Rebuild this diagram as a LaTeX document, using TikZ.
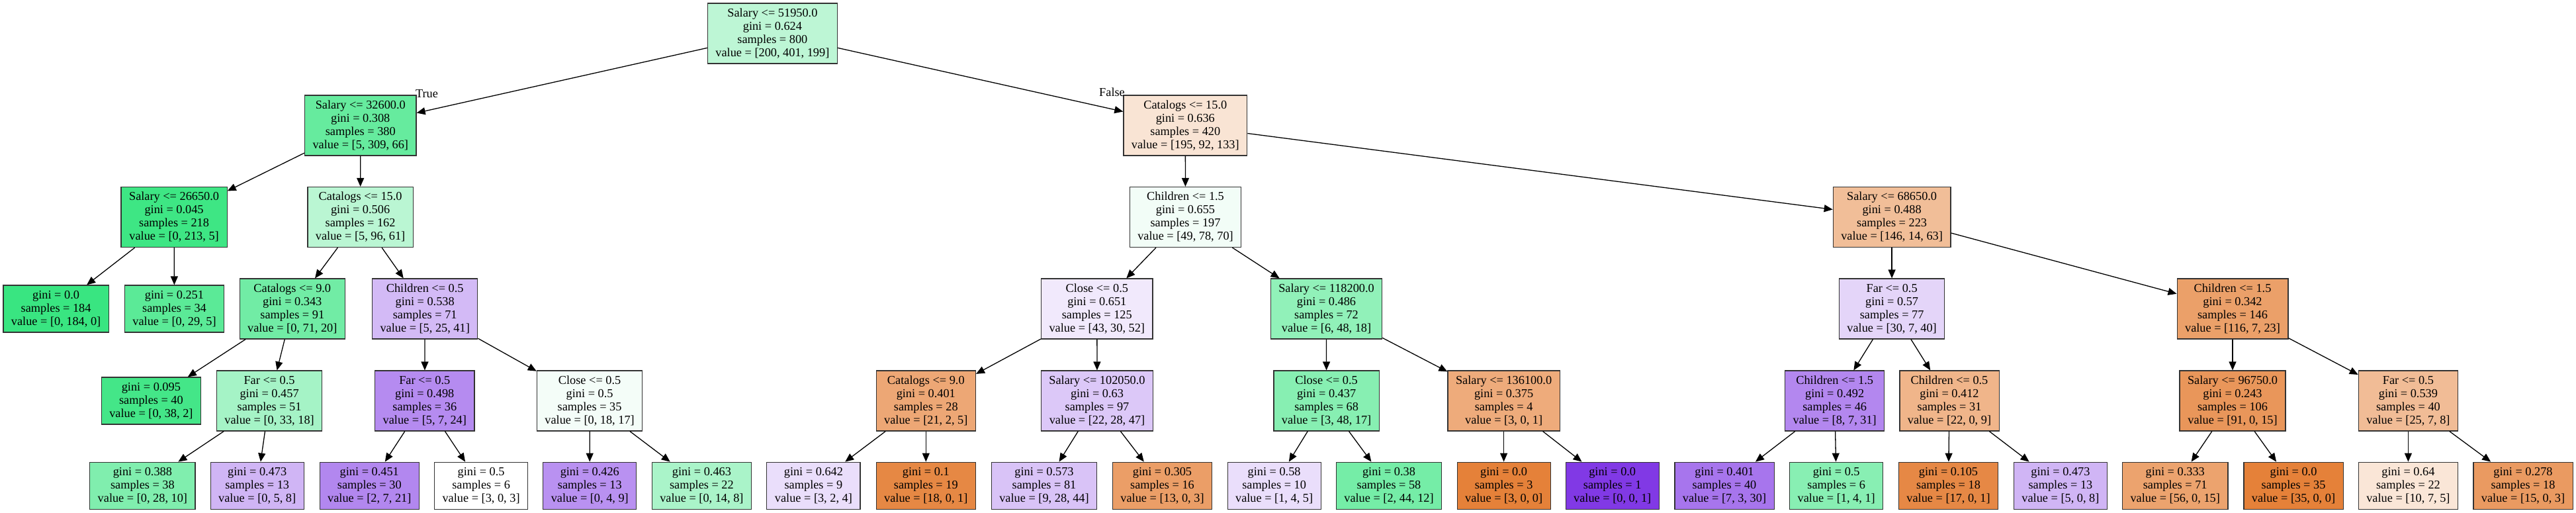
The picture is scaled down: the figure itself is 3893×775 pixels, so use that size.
\documentclass[tikz,border=0pt]{standalone}
\usepackage{fontspec}
\setmainfont{Liberation Serif}
\usetikzlibrary{arrows.meta}
\newcommand\treefont{\fontsize{18.3}{20}\selectfont}
\definecolor{croot}{RGB}{189,246,213}
\definecolor{cna}{RGB}{102,235,158}
\definecolor{cnb}{RGB}{249,228,212}
\definecolor{cnaa}{RGB}{62,230,132}
\definecolor{cnab}{RGB}{186,246,211}
\definecolor{cnba}{RGB}{242,253,247}
\definecolor{cnbb}{RGB}{241,190,152}
\definecolor{cla}{RGB}{57,229,129}
\definecolor{clb}{RGB}{91,234,151}
\definecolor{cnaba}{RGB}{113,236,165}
\definecolor{cnabb}{RGB}{211,186,246}
\definecolor{cnbaa}{RGB}{241,233,252}
\definecolor{cnbab}{RGB}{145,241,185}
\definecolor{cnbba}{RGB}{228,213,249}
\definecolor{cnbbb}{RGB}{235,160,105}
\definecolor{clc}{RGB}{68,230,136}
\definecolor{cnabab}{RGB}{165,243,198}
\definecolor{cnabba}{RGB}{181,139,240}
\definecolor{cnabbb}{RGB}{244,253,248}
\definecolor{cnbaaa}{RGB}{237,167,117}
\definecolor{cnbaab}{RGB}{220,200,248}
\definecolor{cnbaba}{RGB}{135,239,178}
\definecolor{cnbabb}{RGB}{238,171,123}
\definecolor{cnbbaa}{RGB}{179,135,239}
\definecolor{cnbbab}{RGB}{240,181,138}
\definecolor{cnbbba}{RGB}{233,150,90}
\definecolor{cnbbbb}{RGB}{241,188,150}
\definecolor{cl4}{RGB}{128,238,174}
\definecolor{cl5}{RGB}{208,181,245}
\definecolor{cl6}{RGB}{178,135,239}
\definecolor{cl7}{RGB}{255,255,255}
\definecolor{cl8}{RGB}{185,145,241}
\definecolor{cl9}{RGB}{170,244,201}
\definecolor{cl10}{RGB}{234,222,251}
\definecolor{cl11}{RGB}{230,136,68}
\definecolor{cl12}{RGB}{217,195,247}
\definecolor{cl13}{RGB}{235,158,103}
\definecolor{cl14}{RGB}{234,222,251}
\definecolor{cl15}{RGB}{117,237,167}
\definecolor{cl16}{RGB}{229,129,57}
\definecolor{cl17}{RGB}{129,57,229}
\definecolor{cl18}{RGB}{167,117,237}
\definecolor{cl19}{RGB}{136,239,179}
\definecolor{cl20}{RGB}{230,136,69}
\definecolor{cl21}{RGB}{208,181,245}
\definecolor{cl22}{RGB}{236,163,110}
\definecolor{cl23}{RGB}{229,129,57}
\definecolor{cl24}{RGB}{250,230,215}
\definecolor{cl25}{RGB}{234,154,97}
\tikzset{
  tnode/.style={draw=black!80, line width=1.2pt, rectangle, inner xsep=12pt, inner ysep=0pt, align=center, font=\treefont},
  split/.style={tnode, minimum height=91pt},
  leaf/.style={tnode, minimum height=71pt},
  conn/.style={draw=black, line width=1.3pt, -{Triangle[length=13pt,width=11pt]}},
  lbl/.style={inner sep=0pt, font=\treefont}
}
\begin{document}
\begin{tikzpicture}[x=1pt,y=-1pt]
\useasboundingbox[fill=white] (0,0) rectangle (3893,775);
% level 0
\node[split, fill=croot] (root) at (1167.4,50.5) {Salary <= 51950.0\\gini = 0.624\\samples = 800\\value = [200, 401, 199]};
% level 1
\node[split, fill=cna] (na) at (544.8,189.5) {Salary <= 32600.0\\gini = 0.308\\samples = 380\\value = [5, 309, 66]};
\node[split, fill=cnb] (nb) at (1791.3,189.5) {Catalogs <= 15.0\\gini = 0.636\\samples = 420\\value = [195, 92, 133]};
% level 2
\node[split, fill=cnaa] (naa) at (263.1,328) {Salary <= 26650.0\\gini = 0.045\\samples = 218\\value = [0, 213, 5]};
\node[split, fill=cnab] (nab) at (544.6,328) {Catalogs <= 15.0\\gini = 0.506\\samples = 162\\value = [5, 96, 61]};
\node[split, fill=cnba] (nba) at (1791.5,328) {Children <= 1.5\\gini = 0.655\\samples = 197\\value = [49, 78, 70]};
\node[split, fill=cnbb] (nbb) at (2859.1,328) {Salary <= 68650.0\\gini = 0.488\\samples = 223\\value = [146, 14, 63]};
% level 3
\node[leaf, fill=cla] (la) at (84.6,466.5) {gini = 0.0\\samples = 184\\value = [0, 184, 0]};
\node[leaf, fill=clb] (lb) at (263.5,466.5) {gini = 0.251\\samples = 34\\value = [0, 29, 5]};
\node[split, fill=cnaba] (naba) at (441.8,466.5) {Catalogs <= 9.0\\gini = 0.343\\samples = 91\\value = [0, 71, 20]};
\node[split, fill=cnabb] (nabb) at (642.2,466.5) {Children <= 0.5\\gini = 0.538\\samples = 71\\value = [5, 25, 41]};
\node[split, fill=cnbaa] (nbaa) at (1657.8,466.5) {Close <= 0.5\\gini = 0.651\\samples = 125\\value = [43, 30, 52]};
\node[split, fill=cnbab] (nbab) at (2004.5,466.5) {Salary <= 118200.0\\gini = 0.486\\samples = 72\\value = [6, 48, 18]};
\node[split, fill=cnbba] (nbba) at (2859.1,466.5) {Far <= 0.5\\gini = 0.57\\samples = 77\\value = [30, 7, 40]};
\node[split, fill=cnbbb] (nbbb) at (3374,466.5) {Children <= 1.5\\gini = 0.342\\samples = 146\\value = [116, 7, 23]};
% level 4
\node[leaf, fill=clc] (lc) at (228.4,605.5) {gini = 0.095\\samples = 40\\value = [0, 38, 2]};
\node[split, fill=cnabab] (nabab) at (407.1,605.5) {Far <= 0.5\\gini = 0.457\\samples = 51\\value = [0, 33, 18]};
\node[split, fill=cnabba] (nabba) at (641.8,605.5) {Far <= 0.5\\gini = 0.498\\samples = 36\\value = [5, 7, 24]};
\node[split, fill=cnabbb] (nabbb) at (891.1,605.5) {Close <= 0.5\\gini = 0.5\\samples = 35\\value = [0, 18, 17]};
\node[split, fill=cnbaaa] (nbaaa) at (1399.3,605.5) {Catalogs <= 9.0\\gini = 0.401\\samples = 28\\value = [21, 2, 5]};
\node[split, fill=cnbaab] (nbaab) at (1658,605.5) {Salary <= 102050.0\\gini = 0.63\\samples = 97\\value = [22, 28, 47]};
\node[split, fill=cnbaba] (nbaba) at (2004.6,605.5) {Close <= 0.5\\gini = 0.437\\samples = 68\\value = [3, 48, 17]};
\node[split, fill=cnbabb] (nbabb) at (2272.6,605.5) {Salary <= 136100.0\\gini = 0.375\\samples = 4\\value = [3, 0, 1]};
\node[split, fill=cnbbaa] (nbbaa) at (2772.7,605.5) {Children <= 1.5\\gini = 0.492\\samples = 46\\value = [8, 7, 31]};
\node[split, fill=cnbbab] (nbbab) at (2946,605.5) {Children <= 0.5\\gini = 0.412\\samples = 31\\value = [22, 0, 9]};
\node[split, fill=cnbbba] (nbbba) at (3374,605.5) {Salary <= 96750.0\\gini = 0.243\\samples = 106\\value = [91, 0, 15]};
\node[split, fill=cnbbbb] (nbbbb) at (3639.4,605.5) {Far <= 0.5\\gini = 0.539\\samples = 40\\value = [25, 7, 8]};
% level 5
\node[leaf, fill=cl4] (l4) at (215.4,733.7) {gini = 0.388\\samples = 38\\value = [0, 28, 10]};
\node[leaf, fill=cl5] (l5) at (388.7,733.7) {gini = 0.473\\samples = 13\\value = [0, 5, 8]};
\node[leaf, fill=cl6] (l6) at (558.3,733.7) {gini = 0.451\\samples = 30\\value = [2, 7, 21]};
\node[leaf, fill=cl7] (l7) at (727.1,733.7) {gini = 0.5\\samples = 6\\value = [3, 0, 3]};
\node[leaf, fill=cl8] (l8) at (891.3,733.7) {gini = 0.426\\samples = 13\\value = [0, 4, 9]};
\node[leaf, fill=cl9] (l9) at (1060.4,733.7) {gini = 0.463\\samples = 22\\value = [0, 14, 8]};
\node[leaf, fill=cl10] (l10) at (1229.4,733.7) {gini = 0.642\\samples = 9\\value = [3, 2, 4]};
\node[leaf, fill=cl11] (l11) at (1399.3,733.7) {gini = 0.1\\samples = 19\\value = [18, 0, 1]};
\node[leaf, fill=cl12] (l12) at (1578,733.7) {gini = 0.573\\samples = 81\\value = [9, 28, 44]};
\node[leaf, fill=cl13] (l13) at (1756.5,733.7) {gini = 0.305\\samples = 16\\value = [13, 0, 3]};
\node[leaf, fill=cl14] (l14) at (1925.6,733.7) {gini = 0.58\\samples = 10\\value = [1, 4, 5]};
\node[leaf, fill=cl15] (l15) at (2099,733.7) {gini = 0.38\\samples = 58\\value = [2, 44, 12]};
\node[leaf, fill=cl16] (l16) at (2272.6,733.7) {gini = 0.0\\samples = 3\\value = [3, 0, 0]};
\node[leaf, fill=cl17] (l17) at (2436.7,733.7) {gini = 0.0\\samples = 1\\value = [0, 0, 1]};
\node[leaf, fill=cl18] (l18) at (2606,733.7) {gini = 0.401\\samples = 40\\value = [7, 3, 30]};
\node[leaf, fill=cl19] (l19) at (2775.2,733.7) {gini = 0.5\\samples = 6\\value = [1, 4, 1]};
\node[leaf, fill=cl20] (l20) at (2944.5,733.7) {gini = 0.105\\samples = 18\\value = [17, 0, 1]};
\node[leaf, fill=cl21] (l21) at (3113.9,733.7) {gini = 0.473\\samples = 13\\value = [5, 0, 8]};
\node[leaf, fill=cl22] (l22) at (3287.2,733.7) {gini = 0.333\\samples = 71\\value = [56, 0, 15]};
\node[leaf, fill=cl23] (l23) at (3466,733.7) {gini = 0.0\\samples = 35\\value = [35, 0, 0]};
\node[leaf, fill=cl24] (l24) at (3639.4,733.7) {gini = 0.64\\samples = 22\\value = [10, 7, 5]};
\node[leaf, fill=cl25] (l25) at (3813,733.7) {gini = 0.278\\samples = 18\\value = [15, 0, 3]};
% branch labels
\node[lbl] (ltrue) at (645,141.5) {True};
\node[lbl] (lfalse) at (1680.5,139.5) {False};
% connectors
\foreach \a/\b in {root/na, root/nb, na/naa, na/nab, nb/nba, nb/nbb,
  naa/la, naa/lb, nab/naba, nab/nabb, nba/nbaa, nba/nbab, nbb/nbba, nbb/nbbb,
  naba/lc, naba/nabab, nabb/nabba, nabb/nabbb, nbaa/nbaaa, nbaa/nbaab,
  nbab/nbaba, nbab/nbabb, nbba/nbbaa, nbba/nbbab, nbbb/nbbba, nbbb/nbbbb,
  nabab/l4, nabab/l5, nabba/l6, nabba/l7, nabbb/l8, nabbb/l9,
  nbaaa/l10, nbaaa/l11, nbaab/l12, nbaab/l13, nbaba/l14, nbaba/l15,
  nbabb/l16, nbabb/l17, nbbaa/l18, nbbaa/l19, nbbab/l20, nbbab/l21,
  nbbba/l22, nbbba/l23, nbbbb/l24, nbbbb/l25}
  \draw[conn] (\a) -- (\b);
\end{tikzpicture}
\end{document}
